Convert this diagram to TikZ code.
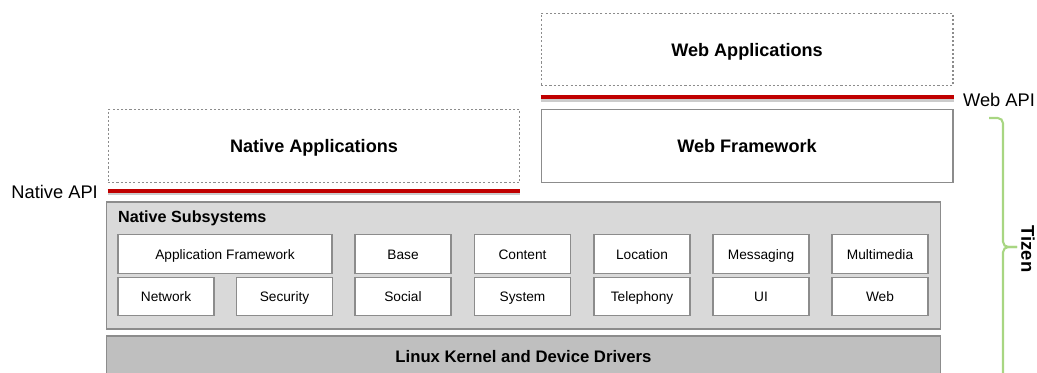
\documentclass[tikz,border=0pt]{standalone}
\usepackage{fontspec}
\setmainfont{Liberation Sans}
\definecolor{apired}{RGB}{192,0,0}
\definecolor{tizengreen}{RGB}{168,214,130}
\definecolor{subsysgray}{RGB}{217,217,217}
\definecolor{kernelgray}{RGB}{191,191,191}
\tikzset{
  layer/.style={draw=gray!90, line width=0.6pt, minimum width=8.24cm, minimum height=1.45cm,
    text height=1.6ex, text depth=0.1ex, font=\fontsize{10.3}{12}\selectfont\bfseries},
  applayer/.style={layer, dashed, dash pattern=on 1.2pt off 1.2pt},
  module/.style={draw=gray!90, fill=white, line width=0.6pt, minimum width=1.92cm, minimum height=0.77cm,
    text height=1.6ex, text depth=0.45ex, font=\fontsize{7.8}{9}\selectfont},
  apiline/.style={apired, line width=2.2pt},
  apishadow/.style={gray!40, line width=2pt},
  apilabel/.style={font=\fontsize{10.4}{12}\selectfont}
}
\begin{document}
\begin{tikzpicture}[x=0.02cm,y=-0.02cm]
  \useasboundingbox (0,0) rectangle (1037,372);
  \clip (0,0) rectangle (1037,372);

  % web side
  \node[applayer] (webapp) at (747,49.5) {Web Applications};
  \node[layer] (webfw) at (747,146) {Web Framework};
  \draw[apishadow] ([yshift=-13.5*0.02cm]webapp.south west) -- ([yshift=-13.5*0.02cm]webapp.south east);
  \draw[apiline] ([yshift=-11*0.02cm]webapp.south west) -- ([yshift=-11*0.02cm]webapp.south east);
  \node[apilabel, anchor=east, inner xsep=1pt] (webapi) at (1037,100) {Web API};

  % native side
  \node[applayer] (nativeapp) at (314,146) {Native Applications};
  \draw[apishadow] ([yshift=-10.5*0.02cm]nativeapp.south west) -- ([yshift=-10.5*0.02cm]nativeapp.south east);
  \draw[apiline] ([yshift=-8*0.02cm]nativeapp.south west) -- ([yshift=-8*0.02cm]nativeapp.south east);
  \node[apilabel, anchor=east] (nativeapi) at (104,192) {Native API};

  % native subsystems
  \node[draw=gray!90, fill=subsysgray, line width=0.6pt, minimum width=16.7cm, minimum height=2.54cm] (subsys) at (523.5,265.5) {};
  \node[anchor=west, font=\fontsize{9.2}{11}\selectfont\bfseries] (subsystitle) at (112,218) {Native Subsystems};
  \node[module, minimum width=4.28cm] (appfw) at (225,254) {Application Framework};
  \node[module] (network) at (166,296.5) {Network};
  \node[module] (security) at (284.5,296.5) {Security};
  \foreach \x/\top/\bot in {403/Base/Social, 522.5/Content/System, 642/Location/Telephony,
                           761/Messaging/UI, 880/Multimedia/Web} {
    \node[module] (\top) at (\x,254) {\top};
    \node[module] (\bot) at (\x,296.5) {\bot};
  }

  % kernel
  \node[draw=gray!90, fill=kernelgray, line width=0.6pt, minimum width=16.7cm, minimum height=0.8cm,
    text height=1.6ex, text depth=0.1ex, font=\fontsize{9.5}{11}\selectfont\bfseries] (kernel) at (523.5,356) {Linux Kernel and Device Drivers};

  % tizen bracket
  \coordinate (bracetop) at (989,118);
  \coordinate (bracetip) at (1017,247);
  \coordinate (bracebot) at (1003,390);
  \draw[tizengreen, line width=1.2pt, rounded corners=3pt] (bracetop) -| (1003,247) -- (bracetip);
  \draw[tizengreen, line width=1.2pt, rounded corners=3pt] (bracebot) |- (bracetip);
  \node[rotate=-90, font=\fontsize{10.5}{12}\selectfont\bfseries] (tizen) at (1028,249) {Tizen};
\end{tikzpicture}
\end{document}
